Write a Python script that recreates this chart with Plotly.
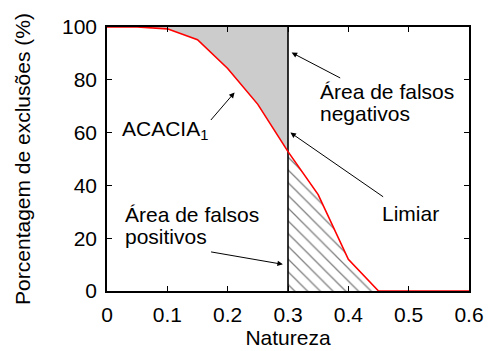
import plotly.graph_objects as go

# Data
natureza = [0.0, 0.05, 0.1, 0.15, 0.2, 0.25, 0.3, 0.35, 0.4, 0.45, 0.5, 0.55, 0.6]
exclusoes = [100, 100, 99.3, 95.2, 84.3, 70.7, 52.8, 36.5, 12, 0, 0, 0, 0]
limiar = 0.3
x_ticks = [0, 0.1, 0.2, 0.3, 0.4, 0.5, 0.6]
y_ticks = [0, 20, 40, 60, 80, 100]

FONT = "Liberation Sans, Arial, sans-serif"
FS = 21

left_x = [x for x in natureza if x <= limiar]
left_y = [y for x, y in zip(natureza, exclusoes) if x <= limiar]
right_x = [x for x, y in zip(natureza, exclusoes) if x >= limiar and x <= 0.45]
right_y = [y for x, y in zip(natureza, exclusoes) if x >= limiar and x <= 0.45]

fig = go.Figure()

# gray area (false negatives)
fig.add_trace(go.Scatter(x=[left_x[0], left_x[-1]], y=[100, 100], mode="lines",
                         line=dict(width=0, color="#cccccc"), showlegend=False, hoverinfo="skip"))
fig.add_trace(go.Scatter(x=left_x, y=left_y, mode="lines", fill="tonexty",
                         fillcolor="#cccccc", line=dict(width=0, color="#cccccc"),
                         showlegend=False, hoverinfo="skip"))

# hatched area (false positives)
fig.add_trace(go.Scatter(x=right_x, y=right_y, mode="lines", fill="tozeroy",
                         fillcolor="white",
                         fillpattern=dict(shape="\\", fgcolor="black", bgcolor="white",
                                          size=9, solidity=0.14),
                         line=dict(width=0, color="black"),
                         showlegend=False, hoverinfo="skip"))

# threshold line
fig.add_trace(go.Scatter(x=[limiar, limiar], y=[0, 100], mode="lines",
                         line=dict(color="black", width=1.6), showlegend=False, hoverinfo="skip"))

# ACACIA curve
fig.add_trace(go.Scatter(x=natureza, y=exclusoes, mode="lines",
                         line=dict(color="#ff0000", width=1.6), showlegend=False))

tf = dict(family=FONT, size=FS, color="black")
ann = []
def label(x, y, t):
    ann.append(dict(x=x, y=y, xref="x", yref="y", text=t, showarrow=False,
                    xanchor="left", yanchor="middle", font=tf))

label(0.022, 61, "ACACIA<sub>1</sub>")
label(0.350, 75.5, "Área de falsos")
label(0.350, 67.3, "negativos")
label(0.453, 29.5, "Limiar")
label(0.027, 29.0, "Área de falsos")
label(0.027, 20.8, "positivos")

arrows = [
    ((0.2114, 75.2), (0.170, 64.2)),
    ((0.306, 90.3), (0.389, 80.4)),
    ((0.304, 60.0), (0.4602, 35.3)),
    ((0.2915, 10.1), (0.170, 14.9)),
]
for (hx, hy), (tx, ty) in arrows:
    ann.append(dict(x=hx, y=hy, ax=tx, ay=ty, xref="x", yref="y", axref="x", ayref="y",
                    text="", showarrow=True, arrowhead=2, arrowsize=1.1, arrowwidth=1,
                    arrowcolor="black", standoff=0, startstandoff=0))

fig.update_layout(
    width=489, height=351,
    margin=dict(l=107, r=20, t=27, b=60, autoexpand=False),
    paper_bgcolor="white", plot_bgcolor="white",
    font=dict(family=FONT, size=FS, color="black"),
    annotations=ann,
    showlegend=False,
)
fig.update_xaxes(range=[0, 0.6], tickvals=x_ticks, ticktext=[f"{v:g}" for v in x_ticks],
                 ticks="inside", ticklen=5, tickcolor="black", tickwidth=1,
                 showline=True, linecolor="black", linewidth=1.6, mirror="ticks",
                 showgrid=False, zeroline=False, automargin=False, ticklabelstandoff=4,
                 title=dict(text="Natureza", font=dict(family=FONT, size=FS), standoff=3),
                 tickfont=dict(family=FONT, size=FS))
fig.update_yaxes(range=[0, 100], tickvals=y_ticks,
                 ticks="inside", ticklen=5, tickcolor="black", tickwidth=1,
                 showline=True, linecolor="black", linewidth=1.6, mirror="ticks",
                 showgrid=False, zeroline=False, automargin=False, ticklabelstandoff=4,
                 title=dict(text="Porcentagem de exclusões (%)", font=dict(family=FONT, size=FS), standoff=26),
                 tickfont=dict(family=FONT, size=FS))

fig.write_html("out.html")
